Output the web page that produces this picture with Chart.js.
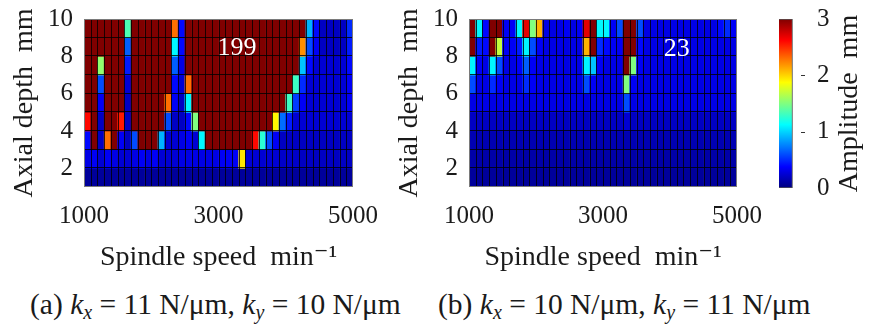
<!DOCTYPE html>
<html><head><meta charset="utf-8">
<script src="https://cdn.jsdelivr.net/npm/chart.js@4.4.1/dist/chart.umd.min.js"></script>
<style>
html,body{margin:0;padding:0;background:#fff;width:869px;height:327px;overflow:hidden;}
canvas{position:absolute;}
.cap{position:absolute;top:289px;font-family:"Liberation Serif","DejaVu Serif";font-size:29.5px;color:#1a1a1a;white-space:nowrap;line-height:30px;}
.cap i{font-style:italic;}
.cap sub{font-size:20px;font-style:italic;vertical-align:-5px;line-height:0;}
</style></head><body>
<canvas id="ca" width="400" height="285" style="left:0;top:0;width:400px;height:285px"></canvas>
<canvas id="cb" width="400" height="285" style="left:385px;top:0;width:400px;height:285px"></canvas>
<canvas id="cc" width="109" height="285" style="left:760px;top:0;width:109px;height:285px"></canvas>
<div class="cap" style="left:30px">(a) <i>k</i><sub>x</sub> = 11 N/μm, <i>k</i><sub>y</sub> = 10 N/μm</div>
<div class="cap" style="left:438px">(b) <i>k</i><sub>x</sub> = 10 N/μm, <i>k</i><sub>y</sub> = 11 N/μm</div>
<script>
// ---- data ----
const speeds = [1050,1150,1250,1350,1450,1550,1650,1750,1850,1950,2050,2150,2250,2350,2450,2550,2650,2750,2850,2950,3050,3150,3250,3350,3450,3550,3650,3750,3850,3950,4050,4150,4250,4350,4450,4550,4650,4750,4850,4950];
const depths = [9,8,7,6,5,4,3,2,1]; // lower edge of each row (top row first)
const speedTicks = [1000,3000,5000];
const depthTicks = [2,4,6,8,10];
const ampTicks = [0,1,2,3];

const ampA = [
 [3,3,3,3,3,3,1.35,3,3,3,3,3,3,2.3,0.4,3,3,3,3,3,3,3,3,3,3,3,3,3,3,3,3,3,3,0.9,0.4,0.2,0.2,0.2,0.2,0.5],
 [3,3,3,3,3,3,0.65,3,3,3,3,3,3,1.1,0.4,3,3,3,3,3,3,3,3,3,3,3,3,3,3,3,3,3,2.2,0.6,0.35,0.2,0.2,0.2,0.2,0.45],
 [3,3,1.55,3,3,3,0.45,3,3,3,3,3,3,0.65,0.3,3,3,3,3,3,3,3,3,3,3,3,3,3,3,3,3,3,0.95,0.4,0.25,0.25,0.25,0.25,0.25,0.4],
 [3,3,0.6,3,3,3,0.25,3,3,3,3,3,3,0.4,0.25,2.3,3,3,3,3,3,3,3,3,3,3,3,3,3,3,3,1.3,0.5,0.25,0.25,0.25,0.25,0.25,0.25,0.35],
 [3,3,0.35,3,3,3,0.2,3,3,3,3,3,2.3,0.35,0.2,1.1,3,3,3,3,3,3,3,3,3,3,3,3,3,3,1.3,0.55,0.35,0.25,0.25,0.25,0.25,0.25,0.25,0.35],
 [2.6,3,0.2,3,3,2.55,0.2,3,3,3,3,3,0.6,0.2,0.2,0.4,1.5,3,3,3,3,3,3,3,3,3,3,3,1.9,0.7,0.45,0.25,0.25,0.25,0.25,0.25,0.25,0.25,0.25,0.25],
 [0.4,3,0.2,2.3,3,0.35,0.2,0.6,3,3,3,0.9,0.25,0.25,0.3,0.35,0.25,1.1,3,3,3,3,3,3,3,2.6,1.25,0.6,0.35,0.2,0.2,0.2,0.2,0.2,0.2,0.2,0.2,0.2,0.2,0.2],
 [0.3,0.35,0.25,0.35,0.3,0.25,0.25,0.3,0.35,0.3,0.35,0.25,0.25,0.25,0.3,0.3,0.3,0.3,0.3,0.3,0.35,0.35,0.35,1.95,0.25,0.25,0.25,0.25,0.25,0.22,0.22,0.22,0.2,0.2,0.2,0.2,0.2,0.2,0.2,0.2],
 [0.08,0.08,0.08,0.08,0.08,0.08,0.08,0.08,0.08,0.08,0.08,0.08,0.08,0.08,0.08,0.08,0.08,0.08,0.08,0.08,0.08,0.08,0.08,0.08,0.08,0.08,0.08,0.08,0.08,0.08,0.08,0.08,0.08,0.08,0.08,0.08,0.08,0.08,0.08,0.08]
];

const ampB = [
 [3,1.1,0.4,3,3,0.35,0.35,1.1,2.7,1.5,2.1,0.3,0.3,0.3,0.35,0.3,0.35,2.7,3,1.1,1.1,0.35,0.6,3,3,0.6,0.3,0.3,0.3,0.3,0.3,0.3,0.3,0.3,0.3,0.3,0.3,0.4,0.5,0.35],
 [3,0.45,0.4,3,1.7,0.35,0.35,0.45,1.1,0.6,0.35,0.3,0.3,0.3,0.3,0.3,0.3,2.1,3,0.5,0.4,0.35,0.35,3,3,0.4,0.3,0.3,0.3,0.3,0.3,0.3,0.3,0.3,0.3,0.3,0.3,0.3,0.3,0.3],
 [1.1,0.35,0.3,1.1,0.6,0.3,0.3,0.35,0.65,0.35,0.3,0.3,0.3,0.3,0.3,0.3,0.3,1.1,0.95,0.35,0.3,0.3,0.3,3,1.5,0.35,0.3,0.3,0.3,0.3,0.3,0.3,0.3,0.3,0.3,0.3,0.3,0.3,0.3,0.3],
 [0.6,0.3,0.3,0.5,0.35,0.3,0.3,0.3,0.5,0.35,0.3,0.3,0.3,0.3,0.3,0.3,0.3,0.6,0.35,0.3,0.3,0.3,0.3,1.5,0.35,0.3,0.3,0.3,0.3,0.3,0.3,0.3,0.3,0.3,0.3,0.3,0.3,0.3,0.3,0.3],
 [0.3,0.3,0.3,0.3,0.3,0.3,0.3,0.3,0.3,0.3,0.3,0.3,0.3,0.3,0.3,0.3,0.3,0.3,0.3,0.3,0.3,0.3,0.3,0.6,0.3,0.3,0.3,0.3,0.3,0.3,0.3,0.3,0.3,0.3,0.3,0.3,0.3,0.3,0.3,0.3],
 [0.2,0.2,0.2,0.2,0.2,0.2,0.2,0.2,0.2,0.2,0.2,0.2,0.2,0.2,0.2,0.2,0.2,0.2,0.2,0.2,0.2,0.2,0.2,0.25,0.2,0.2,0.2,0.2,0.2,0.2,0.2,0.2,0.2,0.2,0.2,0.2,0.2,0.2,0.2,0.2],
 [0.15,0.15,0.15,0.15,0.15,0.15,0.15,0.15,0.15,0.15,0.15,0.15,0.15,0.15,0.15,0.15,0.15,0.15,0.15,0.15,0.15,0.15,0.15,0.15,0.15,0.15,0.15,0.15,0.15,0.15,0.15,0.15,0.15,0.15,0.15,0.15,0.15,0.15,0.15,0.15],
 [0.12,0.12,0.12,0.12,0.12,0.12,0.12,0.12,0.12,0.12,0.12,0.12,0.12,0.12,0.12,0.12,0.12,0.12,0.12,0.12,0.12,0.12,0.12,0.12,0.12,0.12,0.12,0.12,0.12,0.12,0.12,0.12,0.12,0.12,0.12,0.12,0.12,0.12,0.12,0.12],
 [0.08,0.08,0.08,0.08,0.08,0.08,0.08,0.08,0.08,0.08,0.08,0.08,0.08,0.08,0.08,0.08,0.08,0.08,0.08,0.08,0.08,0.08,0.08,0.08,0.08,0.08,0.08,0.08,0.08,0.08,0.08,0.08,0.08,0.08,0.08,0.08,0.08,0.08,0.08,0.08]
];

const noteA = {text:'199', speed:3275, depth:8.45};
const noteB = {text:'23', speed:4100, depth:8.4};

// ---- helpers ----
const SERIF = '"Liberation Serif", "DejaVu Serif"';
const INK = '#1a1a1a';
const AMP_MAX = 3;
function clamp(v){return Math.max(0,Math.min(1,v));}
function jet(v){
  const t = clamp(v/AMP_MAX);
  const r = clamp(1.5-Math.abs(4*t-3)), g = clamp(1.5-Math.abs(4*t-2)), b = clamp(1.5-Math.abs(4*t-1));
  return 'rgb('+Math.round(r*255)+','+Math.round(g*255)+','+Math.round(b*255)+')';
}
function noPadX(s){ s.paddingLeft = 0; s.paddingRight = 0; }
function noPadY(s){ s.paddingTop = 0; s.paddingBottom = 0; }

// cell outlines along every bin edge + value note
const cellPlugin = {
  id:'cells',
  afterDatasetsDraw(chart, args, opts){
    const ctx = chart.ctx, xs = chart.scales.x, ys = chart.scales.y;
    const half = (speeds[1]-speeds[0])/2;
    const top = ys.getPixelForValue(depths[0]+1), bot = ys.getPixelForValue(depths[depths.length-1]);
    const left = xs.getPixelForValue(speeds[0]-half), right = xs.getPixelForValue(speeds[speeds.length-1]+half);
    ctx.save();
    ctx.strokeStyle = 'rgba(0,0,0,0.8)'; ctx.lineWidth = 1;
    ctx.beginPath();
    speeds.forEach(s => { const px = Math.round(xs.getPixelForValue(s-half))+0.5; ctx.moveTo(px, top); ctx.lineTo(px, bot); });
    depths.forEach(d => { const py = Math.round(ys.getPixelForValue(d))-0.5; ctx.moveTo(left, py); ctx.lineTo(right, py); });
    ctx.stroke();
    ctx.strokeStyle = '#7a7a7a';
    ctx.strokeRect(Math.round(left)+0.5, Math.round(top)+0.5, Math.round(right-left)-1, Math.round(bot-top)-1);
    const n = opts.note;
    if(n){
      ctx.fillStyle = '#ffffff';
      ctx.font = '26px '+SERIF;
      ctx.textAlign = 'center'; ctx.textBaseline = 'middle';
      ctx.fillText(n.text, xs.getPixelForValue(n.speed), ys.getPixelForValue(n.depth));
    }
    ctx.restore();
  }
};

function makeHeatmap(id, amp, note, rightPad){
  const datasets = depths.map((d, r) => ({
    data: speeds.map((s, i) => ({x: s, y: [d, d+1]})),
    backgroundColor: amp[r].map(jet),
    borderWidth: 0,
    barPercentage: 1,
    categoryPercentage: 1,
    grouped: false
  }));
  return new Chart(document.getElementById(id), {
    type:'bar',
    data:{datasets},
    plugins:[cellPlugin],
    options:{
      responsive:false, animation:false, devicePixelRatio:1,
      layout:{padding:{top:19, right:rightPad, left:0, bottom:0}},
      plugins:{legend:{display:false}, tooltip:{enabled:false}, cells:{note}},
      scales:{
        x:{type:'linear', min:1000, max:5000, offset:false,
           afterBuildTicks(s){ s.ticks = speedTicks.map(v=>({value:v})); },
           afterFit(s){ s.height = 98; noPadX(s); },
           grid:{display:false, drawTicks:false},
           border:{display:false},
           ticks:{padding:14, color:INK, font:{family:SERIF, size:25}, maxRotation:0, autoSkip:false, callback:v=>String(v)},
           title:{display:true, text:'Spindle speed  min\u207B\u00B9', color:INK, font:{family:SERIF, size:28}, padding:{top:0,bottom:11}}
        },
        y:{type:'linear', min:1, max:10,
           afterBuildTicks(s){ s.ticks = depthTicks.map(v=>({value:v})); },
           afterFit(s){ s.width = 84; noPadY(s); },
           grid:{display:false, drawTicks:false},
           border:{display:false},
           ticks:{padding:11, color:INK, font:{family:SERIF, size:25}, autoSkip:false, callback:v=>String(v)},
           title:{display:true, text:'Axial depth  mm', color:INK, font:{family:SERIF, size:28}, padding:{top:8,bottom:0}}
        }
      }
    }
  });
}

makeHeatmap('ca', ampA, noteA, 47);
makeHeatmap('cb', ampB, noteB, 48);

// ---- colour bar ----
const cbDecor = {
  id:'cbDecor',
  afterDraw(chart){
    const ctx = chart.ctx, a = chart.chartArea, y = chart.scales.y;
    ctx.save();
    ctx.strokeStyle = '#333'; ctx.lineWidth = 1;
    ampTicks.slice(1, -1).forEach(v => {
      const py = Math.round(y.getPixelForValue(v)) + 0.5;
      ctx.beginPath(); ctx.moveTo(a.right - 5, py); ctx.lineTo(a.right - 1, py); ctx.stroke();
    });
    ctx.fillStyle = INK;
    ctx.font = '28px '+SERIF;
    ctx.translate(90, (a.top+a.bottom)/2);
    ctx.rotate(-Math.PI/2);
    ctx.textAlign='center'; ctx.textBaseline='middle';
    ctx.fillText('Amplitude  mm', 0, 0);
    ctx.restore();
  }
};
new Chart(document.getElementById('cc'), {
  type:'bar',
  data:{labels:['Amplitude'], datasets:[{
    data:[[ampTicks[0], ampTicks[ampTicks.length-1]]],
    backgroundColor(ctx){
      const a = ctx.chart.chartArea; if(!a) return '#000080';
      const g = ctx.chart.ctx.createLinearGradient(0, a.bottom, 0, a.top);
      for(let i=0;i<=64;i++) g.addColorStop(i/64, jet(AMP_MAX*i/64));
      return g;
    },
    borderColor:'#555', borderWidth:1, borderSkipped:false,
    barPercentage:1, categoryPercentage:1
  }]},
  plugins:[cbDecor],
  options:{
    responsive:false, animation:false, devicePixelRatio:1,
    layout:{padding:{top:19, left:19, right:0, bottom:97}},
    plugins:{legend:{display:false}, tooltip:{enabled:false}},
    scales:{
      x:{display:false, offset:false},
      y:{position:'right', min:0, max:3,
         afterBuildTicks(s){ s.ticks = ampTicks.map(v=>({value:v})); },
         afterFit(s){ s.width = 63; noPadY(s); },
         grid:{display:false, drawTicks:false}, border:{display:false},
         ticks:{padding:11, color:INK, font:{family:SERIF, size:25}, callback:v=>String(v)}
      }
    }
  }
});
</script>
</body></html>
